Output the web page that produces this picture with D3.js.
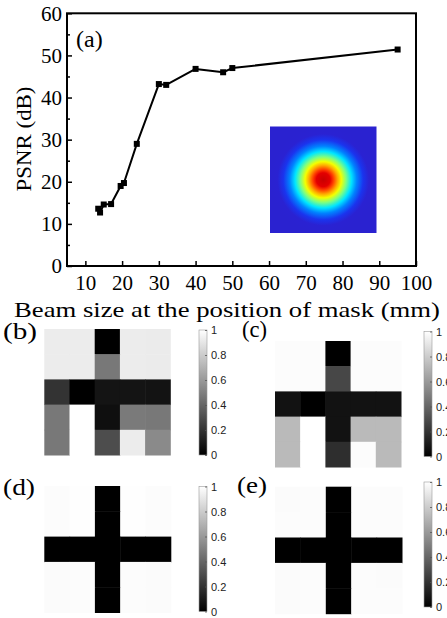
<!DOCTYPE html>
<html>
<head>
<meta charset="utf-8">
<script src="https://cdn.jsdelivr.net/npm/d3@7"></script>
<style>
  body { margin: 0; background: #fff; }
  svg { display: block; }
</style>
</head>
<body>
<div id="chart"></div>
<script>
// panel (a): PSNR vs beam size
const beamSize = [13.5, 14, 15, 17, 19.6, 20.5, 24, 30, 32, 40, 47.5, 50, 95];
const psnr = [13.6, 12.7, 14.6, 14.7, 19, 19.7, 29, 43.2, 43, 46.8, 46, 47, 51.4];
const xTicks = [10, 20, 30, 40, 50, 60, 70, 80, 90, 100];
const yTicks = [0, 10, 20, 30, 40, 50, 60];
const yMinor = [5, 15, 25, 35, 45, 55];

// panels (b)-(e): reconstructed masks, 5x5 gray levels (0 black .. 1 white)
const maskB = [
  [0.925, 0.925, 0.0, 0.925, 0.92],
  [0.925, 0.925, 0.47, 0.925, 0.92],
  [0.2, 0.0, 0.08, 0.08, 0.075],
  [0.47, 1.0, 0.06, 0.48, 0.47],
  [0.47, 1.0, 0.3, 0.925, 0.54]
];
const maskC = [
  [0.99, 0.99, 0.0, 0.99, 0.99],
  [0.99, 0.99, 0.28, 0.99, 0.99],
  [0.07, 0.0, 0.07, 0.07, 0.07],
  [0.73, 1.0, 0.07, 0.73, 0.73],
  [0.73, 1.0, 0.18, 0.99, 0.73]
];
const maskD = [
  [0.99, 0.995, 0.0, 0.995, 0.99],
  [0.99, 0.995, 0.0, 0.995, 0.99],
  [0.0, 0.0, 0.0, 0.0, 0.0],
  [0.985, 0.99, 0.0, 0.99, 0.985],
  [0.985, 0.99, 0.0, 0.99, 0.985]
];
const maskE = [
  [0.985, 0.99, 0.0, 0.99, 0.99],
  [0.99, 0.99, 0.0, 0.99, 0.99],
  [0.0, 0.0, 0.0, 0.0, 0.0],
  [0.985, 0.99, 0.0, 0.99, 0.985],
  [0.985, 0.99, 0.0, 0.99, 0.99]
];
const cbTicks = [0, 0.2, 0.4, 0.6, 0.8, 1];

// jet-like colours of the beam profile inset
const jetStops = [
  [0.00, "#c80000"], [0.13, "#e40000"], [0.19, "#ff3c00"], [0.27, "#ffaa00"],
  [0.34, "#f4ff00"], [0.43, "#7dff82"], [0.53, "#00e6ff"], [0.63, "#0082ff"],
  [0.75, "#1a34ee"], [0.86, "#2a22d2"], [1.00, "#2a22d0"]
];

const W = 447, H = 618;
const serif = "'Times New Roman', 'Liberation Serif', Times, serif";
const sans = "Arial, 'Liberation Sans', sans-serif";

const svg = d3.select("#chart").append("svg")
  .attr("width", W).attr("height", H)
  .attr("viewBox", `0 0 ${W} ${H}`);
svg.append("rect").attr("width", W).attr("height", H).attr("fill", "#fff");

const defs = svg.append("defs");

// ---- panel (a)
const x = d3.scaleLinear().domain([5, 100]).range([67, 416]);
const y = d3.scaleLinear().domain([0, 60]).range([266, 13.3]);

// inset beam image
const inset = { x0: 270, y0: 126.5, size: 106.5 };
const rg = defs.append("radialGradient").attr("id", "beam")
  .attr("gradientUnits", "userSpaceOnUse")
  .attr("cx", inset.x0 + inset.size / 2).attr("cy", inset.y0 + inset.size / 2)
  .attr("r", inset.size / 2);
rg.selectAll("stop").data(jetStops).join("stop")
  .attr("offset", d => d[0]).attr("stop-color", d => d[1]);
svg.append("rect")
  .attr("x", inset.x0).attr("y", inset.y0)
  .attr("width", inset.size).attr("height", inset.size)
  .attr("fill", "url(#beam)");

svg.append("g").attr("transform", `translate(${x.range()[0]},0)`)
  .call(d3.axisLeft(y).tickValues(yTicks).tickSize(-5).tickPadding(5));
svg.append("g").attr("transform", `translate(${x.range()[0]},0)`)
  .call(d3.axisLeft(y).tickValues(yMinor).tickSize(-3).tickFormat(""));
svg.append("g").attr("transform", `translate(0,${y.range()[0]})`)
  .call(d3.axisBottom(x).tickValues(xTicks).tickSize(-5).tickPadding(9));

svg.selectAll(".domain").remove();
svg.selectAll(".tick line").attr("stroke", "#000").attr("stroke-width", 1.5);
svg.selectAll(".tick text")
  .attr("fill", "#000")
  .style("font-family", serif).style("font-size", "21px");

svg.append("rect")
  .attr("x", x.range()[0]).attr("y", y.range()[1])
  .attr("width", x.range()[1] - x.range()[0])
  .attr("height", y.range()[0] - y.range()[1])
  .attr("fill", "none").attr("stroke", "#000").attr("stroke-width", 2);

const pts = beamSize.map((b, i) => [b, psnr[i]]);
svg.append("path").datum(pts)
  .attr("fill", "none").attr("stroke", "#000").attr("stroke-width", 2)
  .attr("stroke-linejoin", "round")
  .attr("d", d3.line().x(d => x(d[0])).y(d => y(d[1])));
svg.append("g").selectAll("rect").data(pts).join("rect")
  .attr("x", d => x(d[0]) - 3).attr("y", d => y(d[1]) - 3)
  .attr("width", 6).attr("height", 6).attr("fill", "#000");

svg.append("text")
  .attr("transform", "translate(31,139) rotate(-90)")
  .attr("text-anchor", "middle")
  .attr("textLength", 105).attr("lengthAdjust", "spacingAndGlyphs")
  .style("font-family", serif).style("font-size", "22px")
  .text("PSNR (dB)");

svg.append("text")
  .attr("x", 76).attr("y", 47)
  .style("font-family", serif).style("font-size", "24px")
  .text("(a)");

svg.append("text")
  .attr("x", 14).attr("y", 317)
  .attr("textLength", 426).attr("lengthAdjust", "spacingAndGlyphs")
  .style("font-family", serif).style("font-size", "21px")
  .text("Beam size at the position of mask (mm)");

// ---- panels (b)-(e)
const gray = d3.scaleLinear().domain([0, 1]).range(["#000", "#fff"]);

const cg = defs.append("linearGradient").attr("id", "cbar")
  .attr("x1", 0).attr("y1", 1).attr("x2", 0).attr("y2", 0);
cg.append("stop").attr("offset", 0).attr("stop-color", "#000");
cg.append("stop").attr("offset", 1).attr("stop-color", "#fff");

const panels = [
  { data: maskB, label: "(b)", lx: 3, ly: 339, lw: 34, gx: 44.3, gy: 329, gs: 126, cx: 199, cy: 330, ch: 125 },
  { data: maskC, label: "(c)", lx: 242, ly: 337, lw: 25, gx: 275, gy: 341, gs: 126, cx: 424, cy: 331.5, ch: 125 },
  { data: maskD, label: "(d)", lx: 3, ly: 495, lw: 32, gx: 44.3, gy: 486, gs: 126.5, cx: 199, cy: 486.5, ch: 125 },
  { data: maskE, label: "(e)", lx: 237, ly: 493, lw: 30, gx: 275, gy: 486.7, gs: 127, cx: 424, cy: 482, ch: 125 }
];

panels.forEach(p => {
  const g = svg.append("g");
  const n = p.data.length;
  const col = d3.scaleBand().domain(d3.range(n)).range([p.gx, p.gx + p.gs]);
  const row = d3.scaleBand().domain(d3.range(n)).range([p.gy, p.gy + p.gs]);
  const cells = p.data.flatMap((r, i) => r.map((v, j) => ({ i, j, v })));
  g.selectAll("rect").data(cells).join("rect")
    .attr("x", d => col(d.j)).attr("y", d => row(d.i))
    .attr("width", col.bandwidth() + 0.5).attr("height", row.bandwidth() + 0.5)
    .attr("fill", d => gray(d.v));

  // colour bar
  const cbW = 8;
  g.append("rect")
    .attr("x", p.cx).attr("y", p.cy).attr("width", cbW).attr("height", p.ch)
    .attr("fill", "url(#cbar)").attr("stroke", "#999").attr("stroke-width", 0.6);
  const cs = d3.scaleLinear().domain([0, 1]).range([p.cy + p.ch, p.cy]);
  const ax = g.append("g").attr("transform", `translate(${p.cx + cbW},0)`)
    .call(d3.axisRight(cs).tickValues(cbTicks).tickSize(-2).tickPadding(4)
      .tickFormat(d3.format("~g")));
  ax.select(".domain").remove();
  ax.selectAll(".tick line").attr("stroke", "#555").attr("stroke-width", 0.8);
  ax.selectAll(".tick text").attr("fill", "#222")
    .style("font-family", sans).style("font-size", "11px");

  g.append("text")
    .attr("x", p.lx).attr("y", p.ly)
    .attr("textLength", p.lw).attr("lengthAdjust", "spacingAndGlyphs")
    .style("font-family", serif).style("font-size", "24px")
    .text(p.label);
});
</script>
</body>
</html>
